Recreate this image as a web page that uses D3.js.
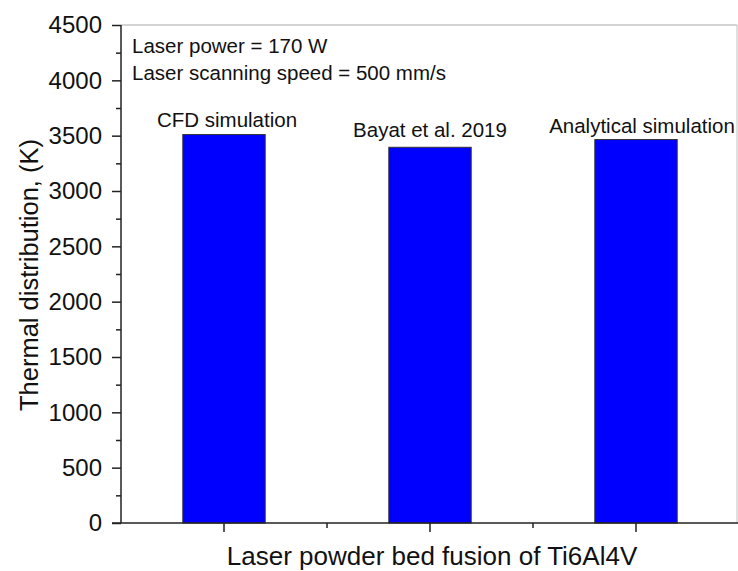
<!DOCTYPE html>
<html><head><meta charset="utf-8">
<script src="https://cdn.jsdelivr.net/npm/d3@7"></script>
<style>body{margin:0;background:#fff}svg{display:block;font-family:"Liberation Sans",Arial,sans-serif}</style>
</head><body><svg id="c" width="738" height="571"></svg>
<script>
const categories = ["CFD simulation", "Bayat et al. 2019", "Analytical simulation"];
const values = [3510, 3395, 3465];
const yTicks = [0, 500, 1000, 1500, 2000, 2500, 3000, 3500, 4000, 4500];
const annotations = ["Laser power = 170 W", "Laser scanning speed = 500 mm/s"];
const xTitle = "Laser powder bed fusion of Ti6Al4V";
const yTitle = "Thermal distribution, (K)";

const svg = d3.select("#c");
const L = 121, R = 739, T = 25, B = 523;
const x = d3.scaleBand().domain(categories).range([L, R]).paddingInner(0.6).paddingOuter(0.3);
const y = d3.scaleLinear().domain([0, 4500]).range([B, T]);
const labelDx = [3, 0, 6], labelGap = [8, 10, 7];

// frame top/right
svg.append("line").attr("x1", L).attr("x2", 737).attr("y1", T).attr("y2", T).attr("stroke", "#aaa").attr("stroke-width", 1.2);
svg.append("line").attr("x1", 737).attr("x2", 737).attr("y1", T).attr("y2", B).attr("stroke", "#ccc").attr("stroke-width", 1.2);

// bars
svg.selectAll("rect.bar").data(values).join("rect").attr("class", "bar")
  .attr("x", (d, i) => x(categories[i])).attr("width", x.bandwidth())
  .attr("y", d => y(d)).attr("height", d => B - y(d))
  .attr("fill", "#0000ff").attr("stroke", "#333").attr("stroke-width", 1);

// bar labels
svg.selectAll("text.bl").data(values).join("text").attr("class", "bl")
  .attr("x", (d, i) => x(categories[i]) + x.bandwidth() / 2 + labelDx[i])
  .attr("y", (d, i) => y(d) - labelGap[i])
  .attr("text-anchor", "middle").attr("font-size", 20.5).attr("fill", "#111")
  .text((d, i) => categories[i]);

// y axis
const yMinor = d3.range(250, 4500, 500);
const ya = svg.append("g").attr("transform", `translate(${L},0)`)
  .call(d3.axisLeft(y).tickValues(yTicks).tickSize(9).tickPadding(10).tickFormat(d3.format("d")));
ya.selectAll("text").attr("font-size", 24).attr("fill", "#111");
ya.selectAll("line,path").attr("stroke", "#222").attr("stroke-width", 1.5);
ya.select("path.domain").attr("d", `M-0,${B}V${T}`);
const ym = svg.append("g").attr("transform", `translate(${L},0)`)
  .call(d3.axisLeft(y).tickValues(yMinor).tickSize(5).tickFormat(""));
ym.select("path.domain").remove();
ym.selectAll("line").attr("stroke", "#222").attr("stroke-width", 1.5);

// x axis
const xa = svg.append("g").attr("transform", `translate(0,${B})`)
  .call(d3.axisBottom(x).tickSize(9).tickFormat(""));
xa.selectAll("line,path").attr("stroke", "#222").attr("stroke-width", 1.5);
xa.select("path.domain").attr("d", `M${L - 9},0H${R}`);
const step = x.step();
const xMinor = categories.slice(0, -1).map(c => x(c) + x.bandwidth() / 2 + step / 2);
svg.append("g").selectAll("line").data(xMinor).join("line")
  .attr("x1", d => d).attr("x2", d => d).attr("y1", B).attr("y2", B + 5)
  .attr("stroke", "#222").attr("stroke-width", 1.5);

// annotations
svg.selectAll("text.an").data(annotations).join("text").attr("class", "an")
  .attr("x", L + 11).attr("y", (d, i) => 53 + i * 27)
  .attr("font-size", 20.5).attr("fill", "#111").text(d => d);

// titles
svg.append("text").attr("x", 432).attr("y", 565).attr("text-anchor", "middle")
  .attr("font-size", 26).attr("fill", "#111").text(xTitle);
svg.append("text").attr("transform", `translate(38,275) rotate(-90)`)
  .attr("text-anchor", "middle").attr("font-size", 25.5).attr("fill", "#111").text(yTitle);
</script></body></html>
